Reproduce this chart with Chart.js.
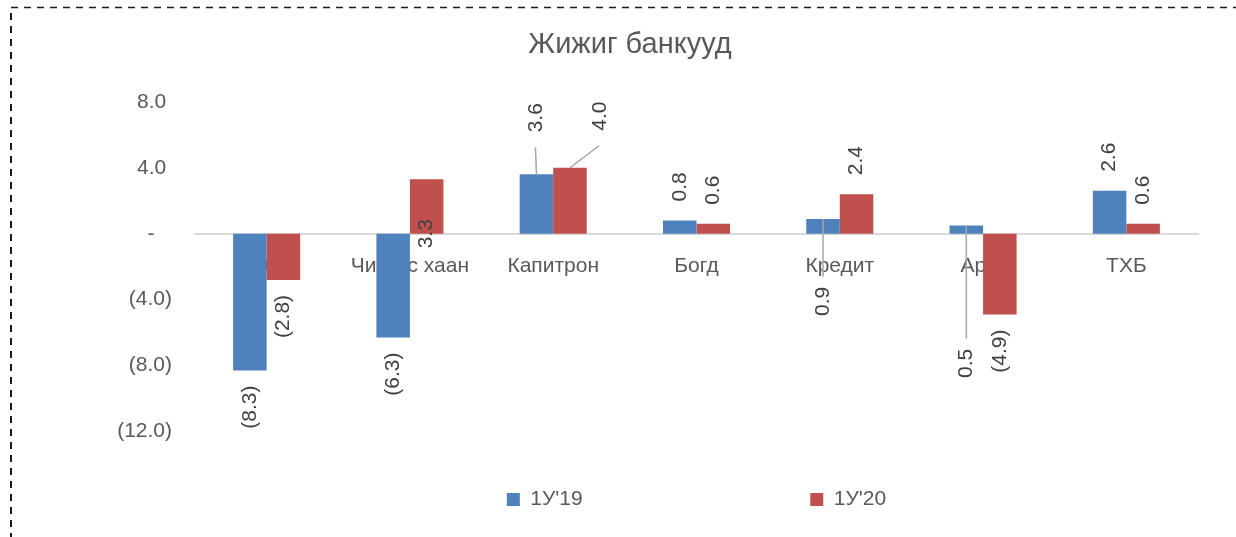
<!DOCTYPE html>
<html>
<head>
<meta charset="utf-8">
<script src="https://cdn.jsdelivr.net/npm/chart.js@4/dist/chart.umd.min.js"></script>
<style>
  html, body { margin: 0; padding: 0; background: #fff; }
  #wrap { width: 1236px; height: 537px; position: relative; }
</style>
</head>
<body>
<div id="wrap"><canvas id="bankChart"></canvas></div>
<script>
const categories = ["ҮХОБ", "Чингис хаан", "Капитрон", "Богд", "Кредит", "Ариг", "ТХБ"];
const seriesNames = ["1У'19", "1У'20"];
const values19 = [-8.3, -6.3, 3.6, 0.8, 0.9, 0.5, 2.6];
const values20 = [-2.8, 3.3, 4.0, 0.6, 2.4, -4.9, 0.6];
const yTicks = [8, 4, 0, -4, -8, -12];

const FONT = "'Liberation Sans', Arial, sans-serif";
const blue = "#4f81bd";
const red = "#c0504d";
const grey = "#595959";

// manual label placements copied from the original (series:index)
const labelTweaks = {
  "0:2": { gap: 42, leader: true },
  "1:2": { gap: 37, dx: 30, leader: true },
  "1:1": { atBase: true },
  "0:4": { below: 53, leader: true },
  "0:5": { below: 115, leader: true },
};

const fmt = v => v < 0 ? "(" + Math.abs(v).toFixed(1) + ")" : v.toFixed(1);

// dashed frame around the chart
const framePlugin = {
  id: "frame",
  beforeDraw(chart) {
    const c = chart.ctx;
    c.save();
    c.strokeStyle = "#1a1a1a";
    c.setLineDash([7, 6]);
    c.lineWidth = 1.5;
    c.beginPath();
    c.moveTo(11, 7.5);
    c.lineTo(1236, 7.5);
    c.stroke();
    c.lineWidth = 2;
    c.beginPath();
    c.moveTo(11, 13);
    c.lineTo(11, 537);
    c.stroke();
    c.restore();
  }
};

// rotated value labels
const labelPlugin = {
  id: "barLabels",
  afterDatasetsDraw(chart) {
    const c = chart.ctx;
    c.save();
    c.font = "21px " + FONT;
    c.fillStyle = "#404040";
    c.textAlign = "center";
    c.textBaseline = "middle";
    chart.data.datasets.forEach((ds, si) => {
      chart.getDatasetMeta(si).data.forEach((bar, i) => {
        const v = ds.data[i];
        const txt = fmt(v);
        const w = c.measureText(txt).width;
        const t = labelTweaks[si + ":" + i] || {};
        let cx = bar.x + (t.dx || 0);
        let cy;
        let lineTo = null;
        if (t.atBase) {
          cy = bar.base;
        } else if (t.below !== undefined) {
          const top = bar.base + t.below;
          cy = top + w / 2;
          lineTo = [cx, top - 10];
        } else if (v >= 0) {
          const gap = t.gap || 19;
          cy = bar.y - gap - w / 2;
          lineTo = [cx - 1, bar.y - gap + 15];
        } else {
          cy = bar.y + 15 + w / 2;
        }
        if (t.leader && lineTo) {
          c.save();
          c.strokeStyle = "#a6a6a6";
          c.lineWidth = 1.5;
          c.beginPath();
          c.moveTo(bar.x, bar.y);
          c.lineTo(lineTo[0], lineTo[1]);
          c.stroke();
          c.restore();
        }
        c.save();
        c.translate(cx, cy);
        c.rotate(-Math.PI / 2);
        c.fillText(txt, 0, 0);
        c.restore();
      });
    });
    c.restore();
  }
};

const ctx = document.querySelector("#bankChart").getContext("2d");

const data = {
  labels: categories,
  datasets: [
    { label: seriesNames[0], data: values19, backgroundColor: blue, borderWidth: 0 },
    { label: seriesNames[1], data: values20, backgroundColor: red, borderWidth: 0 },
  ],
};

const config = {
  type: "bar",
  data: data,
  options: {
    responsive: true,
    maintainAspectRatio: false,
    animation: false,
    categoryPercentage: 0.468,
    barPercentage: 1.0,
    layout: { padding: { left: 62, right: 38, top: 0, bottom: 17 } },
    plugins: {
      title: {
        display: true,
        text: "Жижиг банкууд",
        color: grey,
        font: { family: FONT, size: 29, weight: "normal" },
        padding: { top: 28, bottom: 39 },
      },
      legend: {
        position: "bottom",
        fullSize: false,
        title: { display: true, text: " ", font: { size: 12 }, padding: { top: 43, bottom: 0 } },
        labels: {
          color: grey,
          font: { family: FONT, size: 21 },
          boxWidth: 13,
          boxHeight: 13,
          padding: 0,
          generateLabels: chart => {
            const items = Chart.defaults.plugins.legend.labels.generateLabels(chart);
            items[0].text += " ".repeat(39);
            return items;
          },
        },
      },
      tooltip: { enabled: false },
    },
    scales: {
      x: {
        position: { y: 0 },
        grid: { display: false, drawTicks: false },
        border: { color: "#d9d9d9", width: 2 },
        ticks: {
          color: grey,
          font: { family: FONT, size: 21 },
          padding: 20,
          maxRotation: 0,
          autoSkip: false,
        },
      },
      y: {
        min: -12,
        max: 8,
        afterFit: s => { s.width = 133; },
        afterBuildTicks: s => { s.ticks = yTicks.map(v => ({ value: v })); },
        grid: { display: false, drawTicks: false },
        border: { display: false },
        ticks: {
          color: grey,
          font: { family: FONT, size: 21 },
          padding: 23,
          callback: v => v === 0 ? "-   " : (v < 0 ? "(" + Math.abs(v).toFixed(1) + ")" : v.toFixed(1) + " "),
        },
      },
    },
  },
  plugins: [framePlugin, labelPlugin],
};

const myChart = new Chart(ctx, config);
</script>
</body>
</html>
